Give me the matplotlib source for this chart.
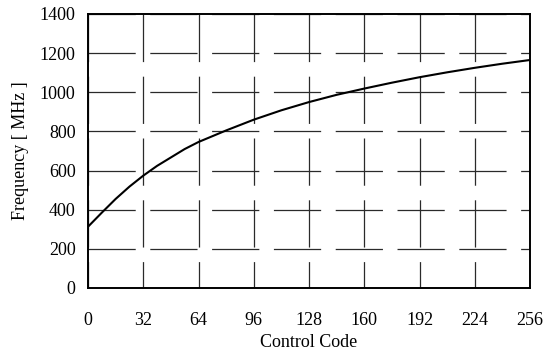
import matplotlib
matplotlib.use("Agg")
import matplotlib.pyplot as plt

control_code = [0, 8, 16, 24, 32, 40, 48, 56, 64, 80, 96, 112, 128, 144, 160, 176, 192, 208, 224, 240, 256]
frequency_mhz = [313, 385, 455, 518, 574, 624, 667, 710, 746, 805, 860, 908, 950, 987, 1019, 1049, 1077, 1102, 1125, 1146, 1165]

x_ticks = [0, 32, 64, 96, 128, 160, 192, 224, 256]
y_ticks = [0, 200, 400, 600, 800, 1000, 1200, 1400]

plt.rcParams['font.family'] = ['Liberation Serif', 'DejaVu Serif']
plt.rcParams['lines.scale_dashes'] = False

fig = plt.figure(figsize=(5.5, 3.54), dpi=100)
ax = fig.add_axes([88/550, 66/354, 442/550, 274/354])

ax.plot(control_code, frequency_mhz, color='black', lw=1.5, zorder=3)

ax.set_xlim(0, 256)
ax.set_ylim(0, 1400)
ax.set_xticks(x_ticks)
ax.set_yticks(y_ticks)
ax.tick_params(axis='both', length=0, labelsize=13)
ax.tick_params(axis='x', pad=17)
ax.tick_params(axis='y', pad=9)

ax.grid(axis='y', color='#2a2a2a', lw=0.9, linestyle=(0, (34, 10.5)))
ax.grid(axis='x', color='#2a2a2a', lw=0.9, linestyle=(15, (34, 10.5)))

for s in ax.spines.values():
    s.set_linewidth(1.4)
    s.set_color('black')

ax.set_xlabel('Control Code', fontsize=13, labelpad=4)
ax.set_ylabel('Frequency [ MHz ]', fontsize=13, labelpad=8)

fig.savefig('out.png', dpi=100)
